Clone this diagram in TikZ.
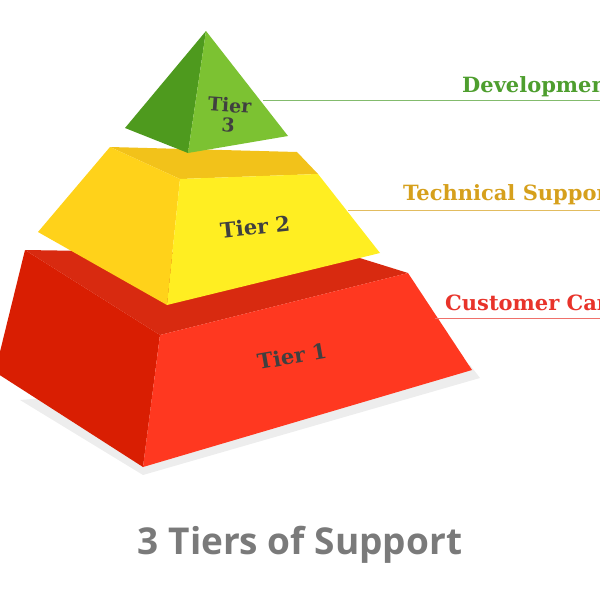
\documentclass[tikz,border=0pt]{standalone}
\usepackage{fontspec}
\setmainfont{DejaVu Serif}
\newfontfamily\titlefont{Open Sans}
\begin{document}
\begin{tikzpicture}[x=1pt,y=-1pt,
  face/.style={line join=round},
  lbl/.style={font=\bfseries\fontsize{21}{23}\selectfont, anchor=base west, inner sep=0},
  tierlbl/.style={font=\bfseries\fontsize{21}{23}\selectfont, text=black!75, inner sep=0},
  lead/.style={line width=0.8pt}]
\useasboundingbox (0,0) rectangle (600,600);
\definecolor{gDark}{HTML}{4E9A1E}\definecolor{gLight}{HTML}{7CC232}
\definecolor{yTop}{HTML}{F2C21A}\definecolor{yLeft}{HTML}{FFD21A}\definecolor{yFront}{HTML}{FFEE22}
\definecolor{rTop}{HTML}{D82A10}\definecolor{rLeft}{HTML}{D91E02}\definecolor{rFront}{HTML}{FF3820}
\definecolor{tGreen}{HTML}{4E9E2E}\definecolor{tGold}{HTML}{D6A01C}\definecolor{tRed}{HTML}{E8332A}
\definecolor{titleGray}{HTML}{7A7A7A}
\begin{scope}
\clip (0,0) rectangle (600,600);
% shadow
\fill[black!7] (20,400) -- (143,475) -- (480,378) -- (470,365) -- cycle;
% red tier
\fill[rTop,face] (25,250) -- (350,255) -- (408,273) -- (160,335) -- cycle;
\fill[rLeft,face] (25,250) -- (160,335) -- (143,467) -- (-5,372) -- cycle;
\fill[rFront,face] (160,335) -- (408,273) -- (472,370) -- (143,467) -- cycle;
% yellow tier
\fill[yTop,face] (110,147) -- (297,152) -- (318,174) -- (180,179) -- cycle;
\fill[yLeft,face] (110,147) -- (180,179) -- (167,305) -- (38,232) -- cycle;
\fill[yFront,face] (180,179) -- (318,174) -- (380,253) -- (167,305) -- cycle;
% green tier
\fill[gDark,face] (206,31) -- (125,128) -- (188,153) -- cycle;
\fill[gLight,face] (206,31) -- (188,153) -- (288,136) -- cycle;
% tier labels
\node[tierlbl, rotate=-4, align=center, font=\bfseries\fontsize{19}{20}\selectfont] (t3) at (229,115) {Tier\\3};
\node[tierlbl, rotate=6] (t2) at (255,227) {Tier 2};
\node[tierlbl, rotate=10] (t1) at (292,356) {Tier 1};
% leader lines
\coordinate (e3) at (600,100);\coordinate (e2) at (600,210);\coordinate (e1) at (600,318);
\coordinate (s3) at (263,100);\coordinate (s2) at (348,210);\coordinate (s1) at (435,318);
\draw[lead, tGreen!70] (s3) -- (e3);
\draw[lead, tGold!70] (s2) -- (e2);
\draw[lead, tRed!70] (s1) -- (e1);
\node[lbl, text=tGreen] (l3) at (462,92) {Development};
\node[lbl, text=tGold] (l2) at (403,200) {Technical Support};
\node[lbl, text=tRed] (l1) at (445,310) {Customer Care};
\end{scope}
\node[font=\titlefont\bfseries\fontsize{37}{40}\selectfont, text=titleGray] (title) at (300,545) {3 Tiers of Support};
\end{tikzpicture}
\end{document}
